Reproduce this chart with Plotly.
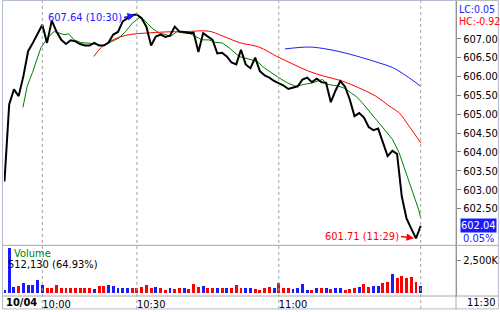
import plotly.graph_objects as go
from plotly.subplots import make_subplots

# ---------------- data (1-minute bars, index 0 = first bar) ----------------
close = [603.22, 605.26, 605.66, 605.48, 606.01, 606.67, 606.89, 607.15, 607.37, 606.89,
         607.48, 607.19, 606.97, 606.86, 606.96, 606.93, 606.86, 606.82, 606.82, 606.89,
         606.82, 606.82, 606.90, 607.11, 607.18, 607.46, 607.54, 607.63, 607.64, 607.54,
         607.32, 606.82, 607.06, 607.11, 607.05, 607.08, 607.32, 607.19, 607.18, 607.15,
         607.16, 606.65, 607.15, 607.05, 606.97, 606.61, 606.63, 606.53, 606.37, 606.32,
         606.71, 606.32, 606.22, 606.50, 606.14, 606.03, 605.97, 605.88, 605.82, 605.76,
         605.67, 605.70, 605.74, 605.92, 605.97, 605.85, 605.94, 605.85, 605.83, 605.32,
         605.63, 605.88, 605.73, 605.39, 604.95, 605.03, 604.91, 604.66, 604.58, 604.62,
         604.26, 603.89, 604.03, 603.95, 602.82, 602.24, 601.97, 601.71, 602.04]

ma_fast_x = [3.9, 4.8, 5.9, 6.9, 7.7, 8.4, 9.4, 10.5, 11.5, 12.6, 13.6, 14.7, 16.1, 17.5, 18.9,
             20.7, 22.1, 24.2, 25.6, 27.0, 28.8, 30.2, 31.2, 32.7, 34.1, 35.1, 36.5, 37.9, 39.0,
             40.4, 41.8, 43.2, 44.7, 46.0, 47.5, 49.6, 51.7, 53.4, 54.9, 56.6, 58.0, 59.8, 61.6,
             63.3, 65.1, 67.2, 68.4, 70.7, 72.1, 73.2, 74.3, 75.6, 77.4, 79.2, 80.6, 82.0, 83.4,
             84.8, 86.2, 87.6, 88.0]
ma_fast = [605.18, 605.74, 606.10, 606.45, 606.76, 606.89, 607.06, 607.19, 607.15, 607.11,
           607.13, 606.97, 606.90, 606.89, 606.87, 606.82, 606.89, 607.02, 607.19, 607.41,
           607.59, 607.41, 607.28, 607.15, 607.11, 607.06, 607.19, 607.15, 607.15, 607.06,
           606.97, 606.97, 606.90, 606.89, 606.76, 606.53, 606.45, 606.40, 606.23, 606.10,
           605.97, 605.83, 605.74, 605.79, 605.83, 605.92, 605.79, 605.74, 605.68, 605.57,
           605.48, 605.31, 605.04, 604.78, 604.56, 604.34, 603.99, 603.47, 602.94, 602.46,
           602.24]

ma_mid_x = [18.9, 20.7, 22.1, 24.2, 27.0, 29.9, 34.1, 38.3, 43.2, 46.0, 49.6, 53.8,
            57.6, 60.8, 64.3, 67.5, 71.4, 74.9, 78.5, 81.3, 83.4, 85.5, 88.0]
ma_mid = [606.53, 606.80, 606.91, 607.04, 607.12, 607.15, 607.18, 607.19, 607.20, 607.08,
          606.90, 606.78, 606.53, 606.34, 606.14, 606.01, 605.88, 605.70, 605.48, 605.22,
          605.04, 604.69, 604.24]

ma_slow_x = [59.3, 64.3, 67.5, 71.8, 76.4, 79.2, 82.0, 84.8, 88.0]
ma_slow = [606.73, 606.78, 606.74, 606.63, 606.47, 606.36, 606.24, 606.03, 605.74]

volume_k = [224, 3409, 470, 545, 798, 597, 597, 1022, 597, 425,
            425, 649, 351, 351, 351, 425, 425, 425, 425, 298,
            522, 522, 597, 522, 373, 373, 373, 425, 425, 470,
            649, 425, 470, 425, 246, 373, 298, 425, 425, 298,
            671, 470, 545, 373, 425, 425, 373, 425, 425, 597,
            373, 373, 373, 298, 246, 373, 470, 373, 746, 425,
            425, 298, 373, 724, 246, 246, 425, 373, 425, 298,
            373, 373, 246, 298, 373, 470, 724, 470, 545, 545,
            768, 873, 1417, 1119, 1320, 1171, 1216, 873, 512.13]
# b = up bar, r = down bar
vol_dir = ("bbbrbbbbbr" "rrrrrrrrrb" "rrbbbbbrrr" "rrbrrbrrbr" "rrbrrbrbrr"
           "rbbrrrrbrr" "rbbbbrbrbr" "bbrrrbrrbb" "rrbrrrrrb")

price_ticks = [602.5, 603.0, 603.5, 604.0, 604.5, 605.0, 605.5, 606.0, 606.5, 607.0]
vol_ticks = [2500]
vol_tick_text = ["2,500K"]
time_tick_idx = [8, 28, 58, 88]
time_tick_text = ["10:00", "10:30", "11:00", ""]
date_label = "10/04"
now_label = "11:30"
hi_idx, lo_idx = 28, 87
lc_text, hc_text = "LC:0.05", "HC:-0.92"
last_pct = "0.05%"
vol_label = "Volume"
vol_info = "512,130 (64.93%)"

# ---------------- layout helpers (pixel -> paper) ----------------
W, H = 500, 312
L, R, T, B = 4, 457, 1, 298
def px(x):
    return (x - L) / (R - L)
def py(y):
    return (B - y) / (B - T)

FONT = "DejaVu Sans Condensed, DejaVu Sans, sans-serif"
BLUE = "#1a1aff"
RED = "#ff0000"
GREEN = "#008000"
GRID = "#a0a0a0"
FRAME = "#b4bccb"

fig = make_subplots(rows=2, cols=1, shared_xaxes=True, vertical_spacing=0,
                    row_heights=[246 / 297, 51 / 297])

idx = list(range(len(close)))
fig.add_trace(go.Scatter(x=ma_fast_x, y=ma_fast, mode="lines",
                         line=dict(color=GREEN, width=1)), row=1, col=1)
fig.add_trace(go.Scatter(x=ma_mid_x, y=ma_mid, mode="lines",
                         line=dict(color=RED, width=1, shape="spline")), row=1, col=1)
fig.add_trace(go.Scatter(x=ma_slow_x, y=ma_slow, mode="lines",
                         line=dict(color=BLUE, width=1, shape="spline")), row=1, col=1)
fig.add_trace(go.Scatter(x=idx, y=close, mode="lines",
                         line=dict(color="#000000", width=2)), row=1, col=1)

bar_colors = [BLUE if d == "b" else RED for d in vol_dir]
fig.add_trace(go.Bar(x=idx, y=volume_k, marker=dict(color=bar_colors, line=dict(width=0)),
                     width=0.62), row=2, col=1)

xr = [-0.1, 95.46]
fig.update_xaxes(range=xr, showgrid=False, zeroline=False, showline=False, ticks="",
                 fixedrange=True)
fig.update_xaxes(showticklabels=False, row=1, col=1)
fig.update_xaxes(tickmode="array", tickvals=time_tick_idx, ticktext=time_tick_text,
                 ticklabelposition="outside right", showticklabels=True,
                 tickfont=dict(family=FONT, size=11, color="#000000"), row=2, col=1)

fig.update_yaxes(range=[601.526, 608.0], side="right", tickmode="array",
                 tickvals=price_ticks, ticktext=["%.2f" % v for v in price_ticks],
                 ticks="outside", ticklen=4, tickcolor="#808080", showline=True,
                 linecolor="#808080", linewidth=1, showgrid=False, zeroline=False,
                 tickfont=dict(family=FONT, size=11, color="#000000"), row=1, col=1)
fig.update_yaxes(range=[-187, 3618], side="right", tickmode="array",
                 tickvals=vol_ticks, ticktext=vol_tick_text,
                 ticks="outside", ticklen=4, tickcolor="#808080", showline=True,
                 linecolor="#808080", linewidth=1, showgrid=False, zeroline=False,
                 tickfont=dict(family=FONT, size=11, color="#000000"), row=2, col=1)

shapes = []
# vertical dotted time lines
for t in time_tick_idx:
    shapes.append(dict(type="line", xref="x", yref="paper", x0=t, x1=t,
                       y0=py(311), y1=py(1), line=dict(color=GRID, width=1, dash="dot")))
# pane separators and frame
for yy in (247, 298):
    shapes.append(dict(type="line", xref="paper", yref="paper", x0=px(3), x1=px(500),
                       y0=py(yy), y1=py(yy), line=dict(color="#a8a8a8", width=1)))
shapes.append(dict(type="line", xref="paper", yref="paper", x0=px(457), x1=px(457),
                   y0=py(312), y1=py(0), line=dict(color="#a8a8a8", width=1)))
shapes.append(dict(type="rect", xref="paper", yref="paper", x0=px(2.5), x1=px(499.5),
                   y0=py(311), y1=py(0.5), line=dict(color=FRAME, width=1)))

ann = []
ann.append(dict(x=hi_idx, y=close[hi_idx], xref="x", yref="y",
                text="%.2f (10:30)" % close[hi_idx], showarrow=True, arrowhead=2,
                arrowsize=1, arrowwidth=1.5, arrowcolor=BLUE, ax=-13, ay=3,
                xanchor="right", standoff=2,
                font=dict(family=FONT, size=11, color=BLUE)))
ann.append(dict(x=lo_idx, y=close[lo_idx], xref="x", yref="y",
                text="%.2f (11:29)" % close[lo_idx], showarrow=True, arrowhead=2,
                arrowsize=1, arrowwidth=1.5, arrowcolor=RED, ax=-15, ay=-2,
                xanchor="right", standoff=2,
                font=dict(family=FONT, size=11, color=RED)))
ann.append(dict(x=px(458), y=py(9), xref="paper", yref="paper", text=lc_text,
                showarrow=False, xanchor="left", yanchor="middle",
                font=dict(family=FONT, size=10.5, color=BLUE)))
ann.append(dict(x=px(458), y=py(21), xref="paper", yref="paper", text=hc_text,
                showarrow=False, xanchor="left", yanchor="middle",
                font=dict(family=FONT, size=10.5, color=RED)))
ann.append(dict(x=px(461), y=close[-1], xref="paper", yref="y", text="%.2f" % close[-1],
                showarrow=False, xanchor="left", yanchor="middle", bgcolor=BLUE,
                borderpad=0, font=dict(family=FONT, size=11, color="#ffffff")))
ann.append(dict(x=px(462), y=py(240), xref="paper", yref="paper", text=last_pct,
                showarrow=False, xanchor="left", yanchor="middle",
                font=dict(family=FONT, size=11, color=BLUE)))
ann.append(dict(x=px(12), y=py(255), xref="paper", yref="paper", text=vol_label,
                showarrow=False, xanchor="left", yanchor="middle",
                font=dict(family=FONT, size=11, color=GREEN)))
ann.append(dict(x=px(6), y=py(266), xref="paper", yref="paper", text=vol_info,
                showarrow=False, xanchor="left", yanchor="middle",
                font=dict(family=FONT, size=11, color="#000000")))
ann.append(dict(x=px(4), y=py(304.5), xref="paper", yref="paper", text="<b>%s</b>" % date_label,
                showarrow=False, xanchor="left", yanchor="middle",
                font=dict(family=FONT, size=11, color="#000000")))
ann.append(dict(x=px(466), y=py(304.5), xref="paper", yref="paper", text=now_label,
                showarrow=False, xanchor="left", yanchor="middle",
                font=dict(family=FONT, size=11, color="#000000")))

fig.update_layout(width=W, height=H, autosize=False,
                  margin=dict(l=L, r=W - R, t=T, b=H - B),
                  plot_bgcolor="#ffffff", paper_bgcolor="#ffffff",
                  showlegend=False, bargap=0, shapes=shapes, annotations=ann,
                  font=dict(family=FONT, size=11, color="#000000"))

fig.write_html("out.html")
